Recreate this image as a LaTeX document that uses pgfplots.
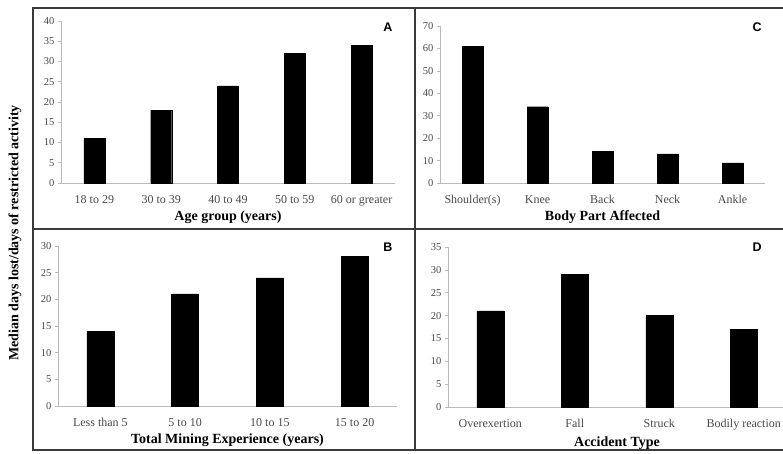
\documentclass[border=0pt]{standalone}
\usepackage{pgfplots}
\pgfplotsset{compat=1.18}
\usepackage{fontspec}
\setmainfont{Liberation Serif}
\newfontfamily\sansf{Liberation Sans}
\definecolor{tickgray}{HTML}{4A4A4A}
\definecolor{axgray}{HTML}{BBBBBB}
\definecolor{framegray}{HTML}{3A3A3A}
\pgfplotsset{
  panel/.style={
    scale only axis,
    anchor=south west,
    ybar,
    axis x line*=bottom,
    axis y line*=left,
    x axis line style={draw=axgray, line width=0.8pt, -},
    y axis line style={draw=axgray, line width=0.8pt, -},
    ytick style={draw=axgray, line width=0.6pt},
    xtick style={draw=none},
    tick align=outside,
    major tick length=3pt,
    ymin=0,
    xtick=data,
    /pgf/number format/assume math mode=true,
    tick label style={font=\fontsize{10.5}{11}\selectfont, text=tickgray},
    x tick label style={font=\fontsize{12}{12}\selectfont, anchor=base, yshift=-18pt},
    xlabel style={font=\fontsize{14}{14}\selectfont\bfseries, at={(axis description cs:0.5,0)}, anchor=base, yshift=-38pt},
    enlarge x limits=false,
    clip=false,
  },
}
\begin{document}
\begin{tikzpicture}
\useasboundingbox (0pt,0pt) rectangle (783pt,454pt);
\clip (0pt,0pt) rectangle (783pt,454pt);
\fill[white] (0pt,0pt) rectangle (783pt,454pt);
% Panel A
\begin{axis}[panel, at={(61pt,271pt)}, width=334pt, height=162pt,
  xmin=-0.5, xmax=4.5, ymax=40, ytick={0,5,...,40}, bar width=21pt,
  xticklabels={18 to 29,30 to 39,40 to 49,50 to 59,60 or greater},
  xlabel={Age group (years)}]
\addplot[fill=black, draw=black] coordinates {(0,11) (1,18) (2,24) (3,32) (4,34)};
\end{axis}
% Panel C
\begin{axis}[panel, at={(440pt,271pt)}, width=325pt, height=157pt,
  xmin=-0.5, xmax=4.5, ymax=70, ytick={0,10,...,70}, bar width=21pt,
  xticklabels={Shoulder(s),Knee,Back,Neck,Ankle},
  xlabel={Body Part Affected}]
\addplot[fill=black, draw=black] coordinates {(0,61) (1,34) (2,14) (3,13) (4,9)};
\end{axis}
% Panel B
\begin{axis}[panel, at={(58pt,48pt)}, width=339pt, height=160pt,
  xmin=-0.5, xmax=3.5, ymax=30, ytick={0,5,...,30}, bar width=27pt,
  xticklabels={Less than 5,5 to 10,10 to 15,15 to 20},
  xlabel={Total Mining Experience (years)}]
\addplot[fill=black, draw=black] coordinates {(0,14) (1,21) (2,24) (3,28)};
\end{axis}
% Panel D
\begin{axis}[panel, at={(448pt,47pt)}, width=338pt, height=160pt,
  xmin=-0.5, xmax=3.5, ymax=35, ytick={0,5,...,35}, bar width=27pt,
  xticklabels={Overexertion,Fall,Struck,Bodily reaction},
  xlabel={Accident Type},
  xlabel style={yshift=-2pt}]
\addplot[fill=black, draw=black] coordinates {(0,21) (1,29) (2,20) (3,17)};
\end{axis}
% panel letters
\node[font=\sansf\bfseries\fontsize{12.5}{12}\selectfont] at (388pt,427pt) {A};
\node[font=\sansf\bfseries\fontsize{12.5}{12}\selectfont] at (757pt,427pt) {C};
\node[font=\sansf\bfseries\fontsize{12.5}{12}\selectfont] at (388pt,207pt) {B};
\node[font=\sansf\bfseries\fontsize{12.5}{12}\selectfont] at (757pt,207pt) {D};
% frame
\draw[framegray, line width=1.6pt] (795pt,446pt) -- (33pt,446pt) -- (33pt,4pt) -- (795pt,4pt);
\draw[framegray, line width=1.6pt] (415pt,4pt) -- (415pt,446pt);
\draw[framegray, line width=1.6pt] (33pt,225pt) -- (795pt,225pt);
% y label
\node[rotate=90, font=\fontsize{14}{14}\selectfont\bfseries] at (15pt,221pt) {Median days lost/days of restricted activity};
\end{tikzpicture}
\end{document}
